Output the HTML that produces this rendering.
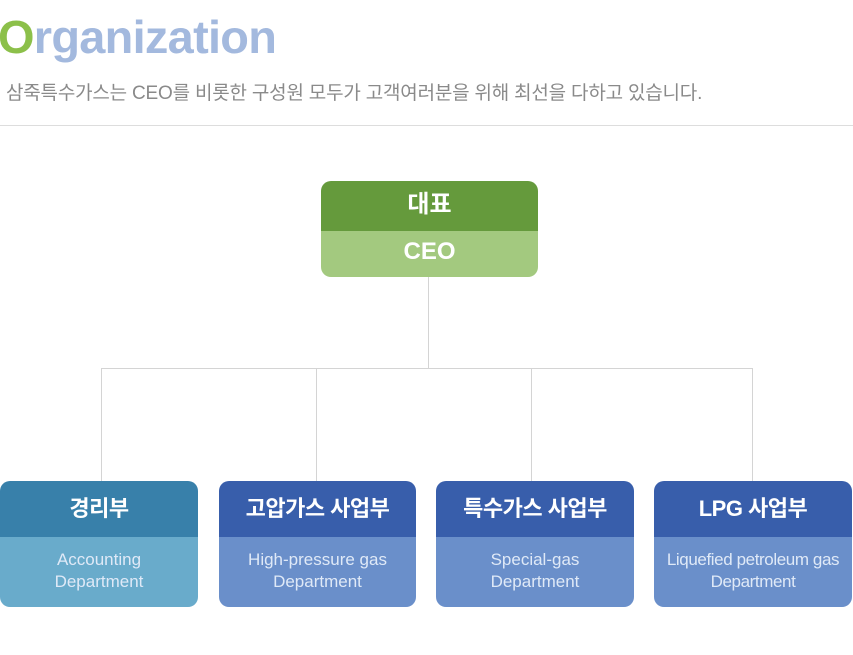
<!DOCTYPE html>
<html><head><meta charset="utf-8"><style>
body{margin:0;width:853px;height:655px;background:#fff;position:relative;overflow:hidden;font-family:"Liberation Sans","Noto Sans CJK KR",sans-serif}
.t{position:absolute;left:-2px;top:10px;font-size:46px;font-weight:bold;color:#a3b9de;letter-spacing:-0.7px;white-space:nowrap;transform:scaleX(1.02);transform-origin:left}
.t span{color:#8cc04a}
.s{position:absolute;left:6px;top:78px;font-size:19px;color:#8a8a8a;letter-spacing:-0.2px;white-space:nowrap}
.box{position:absolute;border-radius:10px;overflow:hidden;text-align:center;color:#fff}
.h{height:56px;line-height:56px;font-size:22px;font-weight:bold;letter-spacing:-0.5px}
.b{height:70px;font-size:17px;line-height:22px;padding-top:12px;box-sizing:border-box;color:#dfe9f7}
.ln{position:absolute;background:#d4d4d4}
</style></head><body>
<div class="t"><span>O</span>rganization</div>
<div class="s">삼죽특수가스는 CEO를 비롯한 구성원 모두가 고객여러분을 위해 최선을 다하고 있습니다.</div>
<div class="ln" style="left:0;top:125px;width:853px;height:1px;background:#ddd"></div>

<div class="box" style="left:321px;top:181px;width:217px;height:96px">
<div style="height:50px;line-height:48px;background:#659a3c;font-size:24px;font-weight:bold">대표</div>
<div style="height:46px;line-height:42px;background:#a3c97f;font-size:24px;font-weight:bold">CEO</div>
</div>

<div class="ln" style="left:428px;top:277px;width:1px;height:91px"></div>
<div class="ln" style="left:101px;top:368px;width:652px;height:1px"></div>
<div class="ln" style="left:101px;top:368px;width:1px;height:113px"></div>
<div class="ln" style="left:316px;top:368px;width:1px;height:113px"></div>
<div class="ln" style="left:531px;top:368px;width:1px;height:113px"></div>
<div class="ln" style="left:752px;top:368px;width:1px;height:113px"></div>

<div class="box" style="left:0;top:481px;width:198px;height:126px">
<div class="h" style="background:#3880aa">경리부</div>
<div class="b" style="background:#69abcb">Accounting<br>Department</div></div>
<div class="box" style="left:219px;top:481px;width:197px;height:126px">
<div class="h" style="background:#385eab">고압가스 사업부</div>
<div class="b" style="background:#6a8fca">High-pressure gas<br>Department</div></div>
<div class="box" style="left:436px;top:481px;width:198px;height:126px">
<div class="h" style="background:#385eab">특수가스 사업부</div>
<div class="b" style="background:#6a8fca">Special-gas<br>Department</div></div>
<div class="box" style="left:654px;top:481px;width:198px;height:126px">
<div class="h" style="background:#385eab">LPG 사업부</div>
<div class="b" style="background:#6a8fca;letter-spacing:-0.4px">Liquefied petroleum gas<br>Department</div></div>
</body></html>
